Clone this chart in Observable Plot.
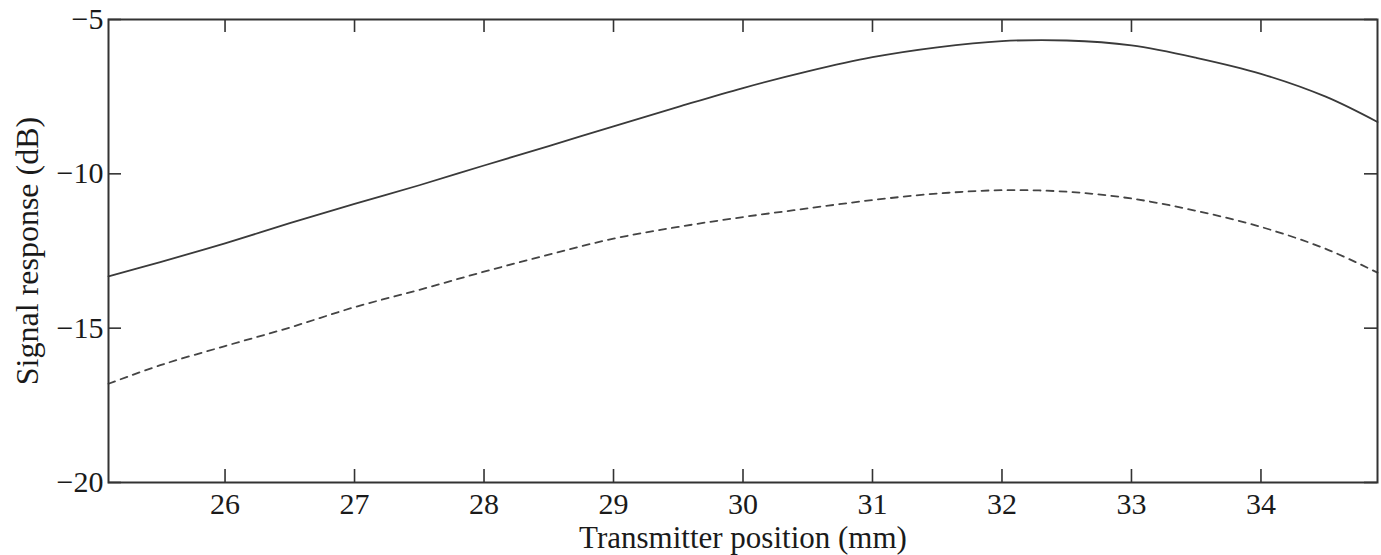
<!DOCTYPE html>
<html>
<head>
<meta charset="utf-8">
<script src="https://cdn.jsdelivr.net/npm/d3@7"></script>
<script src="https://cdn.jsdelivr.net/npm/@observablehq/plot@0.6"></script>
<style>
  html, body { margin: 0; padding: 0; background: #fff; }
</style>
</head>
<body>
<div id="chart"></div>
<script>
// Transmitter position (mm)
const positions = [25.1, 25.5, 26, 26.5, 27, 27.5, 28, 28.5, 29, 29.5, 30, 30.5, 31, 31.5, 32, 32.5, 33, 33.5, 34, 34.5, 34.9];
// Signal response (dB), solid curve
const solidDb = [-13.32, -12.86, -12.25, -11.6, -10.97, -10.37, -9.73, -9.1, -8.46, -7.83, -7.22, -6.68, -6.22, -5.9, -5.7, -5.68, -5.84, -6.24, -6.76, -7.5, -8.32];
// Signal response (dB), dashed curve
const dashedDb = [-16.8, -16.2, -15.58, -14.98, -14.32, -13.76, -13.17, -12.62, -12.1, -11.72, -11.4, -11.12, -10.85, -10.64, -10.53, -10.58, -10.8, -11.2, -11.72, -12.43, -13.2];
const xTicks = [26, 27, 28, 29, 30, 31, 32, 33, 34];
const yTicks = [-20, -15, -10, -5];
const xLabel = "Transmitter position (mm)";
const yLabel = "Signal response (dB)";

const solid = positions.map((x, i) => ({x, y: solidDb[i]}));
const dashed = positions.map((x, i) => ({x, y: dashedDb[i]}));

const W = 1381, H = 555;
const mL = 108, mR = 4, mT = 19, mB = 73;
const plotW = W - mL - mR, plotH = H - mT - mB;
const tk = 13;
const fmt = d3.format("d");
const ink = "#333";
const txt = "#1a1a1a";

const chart = Plot.plot({
  width: W,
  height: H,
  marginLeft: mL,
  marginRight: mR,
  marginTop: mT,
  marginBottom: mB,
  style: {fontFamily: "'Liberation Serif', 'Times New Roman', serif", fontSize: "30px", color: txt, background: "#fff"},
  x: {domain: [25.1, 34.9]},
  y: {domain: [-20, -5]},
  marks: [
    Plot.line(solid, {x: "x", y: "y", stroke: "#3a3a3a", strokeWidth: 1.8, curve: "catmull-rom"}),
    Plot.line(dashed, {x: "x", y: "y", stroke: "#444", strokeWidth: 1.8, strokeDasharray: "7,6", curve: "catmull-rom"}),
    // inward ticks on all four sides
    Plot.tickX(xTicks, {x: d => d, stroke: ink, strokeWidth: 1.6, insetTop: plotH - tk}),
    Plot.tickX(xTicks, {x: d => d, stroke: ink, strokeWidth: 1.6, insetBottom: plotH - tk}),
    Plot.tickY(yTicks, {y: d => d, stroke: ink, strokeWidth: 1.6, insetRight: plotW - tk}),
    Plot.tickY(yTicks, {y: d => d, stroke: ink, strokeWidth: 1.6, insetLeft: plotW - tk}),
    Plot.axisX({ticks: xTicks, tickSize: 0, tickPadding: 10, tickFormat: fmt, label: null, fill: txt, fontSize: 30}),
    Plot.axisY({ticks: yTicks, tickSize: 0, tickPadding: 5, tickFormat: fmt, label: null, fill: txt, fontSize: 30}),
    Plot.frame({stroke: ink, strokeWidth: 2}),
    Plot.text([xLabel], {frameAnchor: "bottom", dy: 56, textAnchor: "middle", lineAnchor: "middle", fontSize: 31, fill: txt}),
    Plot.text([yLabel], {frameAnchor: "left", dx: -81, rotate: -90, textAnchor: "middle", lineAnchor: "middle", fontSize: 32, fill: txt})
  ]
});
document.getElementById("chart").appendChild(chart);
</script>
</body>
</html>
